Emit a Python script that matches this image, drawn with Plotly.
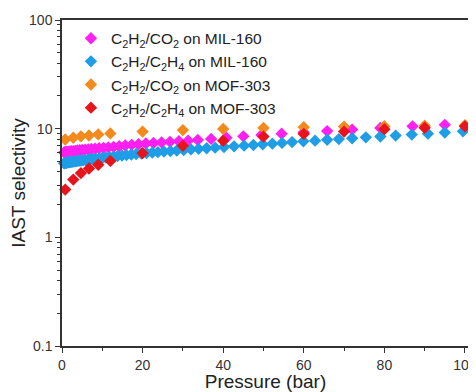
import plotly.graph_objects as go

# MIL-160, C2H2/CO2
p_mil_co2 = [0.5, 0.7, 0.9, 1.1, 1.4, 1.7, 2.0, 2.4, 2.8, 3.3, 3.8, 4.4, 5.0, 5.7, 6.5, 7.3, 8.2, 9.2,
             10.3, 11.5, 12.8, 14.2, 15.7, 17.3, 19.0, 20.8, 22.7, 24.7, 26.8, 29.0, 31.3, 33.7, 37.0,
             40.8, 45.0, 49.5, 54.5, 60.0, 65.8, 72.0, 79.0, 87.0, 95.0]
s_mil_co2 = [6.05, 6.07, 6.09, 6.10, 6.12, 6.14, 6.16, 6.19, 6.22, 6.25, 6.29, 6.33, 6.37, 6.41, 6.45,
             6.50, 6.54, 6.60, 6.66, 6.72, 6.80, 6.90, 7.00, 7.10, 7.20, 7.30, 7.38, 7.47, 7.56, 7.66,
             7.76, 7.87, 8.05, 8.25, 8.50, 8.75, 9.00, 9.25, 9.50, 9.80, 10.15, 10.50, 10.85]

# MIL-160, C2H2/C2H4
p_mil_c2h4 = [0.5, 0.7, 0.9, 1.1, 1.3, 1.6, 1.9, 2.2, 2.5, 2.9, 3.3, 3.7, 4.2, 4.7, 5.2, 5.8, 6.4, 7.0,
              7.7, 8.4, 9.2, 10.0, 10.9, 11.8, 12.8, 13.8, 14.9, 16.0, 17.2, 18.4, 19.7, 21.0, 22.4,
              23.8, 25.3, 26.9, 28.5, 30.2, 32.0, 33.9, 35.9, 38.0, 40.2, 42.7, 45.2, 47.5, 49.8, 52.2,
              54.6, 57.1, 59.9, 62.8, 65.8, 68.7, 72.0, 75.4, 79.0, 82.8, 86.8, 90.8, 95.0, 99.5]
s_mil_c2h4 = [4.80, 4.82, 4.84, 4.86, 4.88, 4.90, 4.92, 4.94, 4.96, 4.98, 5.00, 5.02, 5.05, 5.08, 5.11,
              5.14, 5.17, 5.20, 5.24, 5.28, 5.32, 5.37, 5.42, 5.47, 5.53, 5.59, 5.65, 5.71, 5.78, 5.84,
              5.90, 5.96, 6.02, 6.08, 6.15, 6.22, 6.29, 6.36, 6.44, 6.52, 6.60, 6.69, 6.78, 6.88, 6.98,
              7.08, 7.18, 7.28, 7.40, 7.52, 7.64, 7.76, 7.90, 8.02, 8.17, 8.32, 8.48, 8.64, 8.82, 9.00,
              9.20, 9.45]

# MOF-303
p_mof = [0.8, 2.8, 4.7, 6.7, 9.0, 12.0, 20.0, 30.0, 40.0, 50.0, 60.0, 70.0, 80.0, 90.0, 100.0]
s_mof_co2 = [7.95, 8.25, 8.50, 8.65, 8.85, 9.05, 9.40, 9.70, 9.95, 10.15, 10.30, 10.45, 10.55, 10.65, 10.75]
s_mof_c2h4 = [2.75, 3.40, 3.90, 4.30, 4.65, 5.05, 5.95, 6.95, 7.75, 8.45, 8.95, 9.40, 9.90, 10.20, 10.50]

names = ["C<sub>2</sub>H<sub>2</sub>/CO<sub>2</sub> on MIL-160",
         "C<sub>2</sub>H<sub>2</sub>/C<sub>2</sub>H<sub>4</sub> on MIL-160",
         "C<sub>2</sub>H<sub>2</sub>/CO<sub>2</sub> on MOF-303",
         "C<sub>2</sub>H<sub>2</sub>/C<sub>2</sub>H<sub>4</sub> on MOF-303"]
colors = ["#ff1ff0", "#1f9de6", "#f28a1e", "#e8141c"]

xs = [p_mil_co2, p_mil_c2h4, p_mof, p_mof]
ys = [s_mil_co2, s_mil_c2h4, s_mof_co2, s_mof_c2h4]

FONT = "Arial, Liberation Sans, sans-serif"

fig = go.Figure()
for i in range(4):
    fig.add_trace(go.Scatter(
        x=xs[i], y=ys[i], mode="markers", name=names[i],
        marker=dict(symbol="diamond", size=9.5, color=colors[i], line=dict(width=0)),
        cliponaxis=False,
    ))

minor_y = [v * 10 ** e for e in (-1, 0, 1) for v in range(2, 10)]

# page body has an 8px margin, so the figure is 8px smaller and offset
fig.update_layout(
    width=468, height=384,
    margin=dict(l=54, r=7, t=12, b=46, autoexpand=False),
    paper_bgcolor="white", plot_bgcolor="white",
    font=dict(family=FONT, size=14, color="#333333"),
    showlegend=True,
    legend=dict(x=0.022, y=0.995, xanchor="left", yanchor="top",
                bgcolor="rgba(0,0,0,0)", borderwidth=0,
                font=dict(family=FONT, size=15.5, color="#222222"),
                itemwidth=30),
    xaxis=dict(range=[0, 101], showgrid=False, zeroline=False, automargin=False,
               showline=True, linecolor="#333333", linewidth=1.5, mirror=True,
               ticks="outside", ticklen=5, tickwidth=1.2, tickcolor="#333333",
               tickvals=[0, 20, 40, 60, 80, 100], ticklabeloverflow="allow",
               minor=dict(ticks="outside", ticklen=3, tickvals=[10, 30, 50, 70, 90], tickcolor="#333333"),
               tickfont=dict(size=14, color="#333333"),
               title=dict(text="Pressure (bar)", font=dict(size=19, color="#222222"), standoff=0)),
    yaxis=dict(type="log", range=[-1, 2], showgrid=False, zeroline=False, automargin=False,
               showline=True, linecolor="#333333", linewidth=1.5, mirror=True,
               ticks="outside", ticklen=5, tickwidth=1.2, tickcolor="#333333",
               tickvals=[0.1, 1, 10, 100], ticktext=["0.1", "1", "10", "100"],
               ticklabeloverflow="allow",
               minor=dict(ticks="outside", ticklen=3, tickvals=minor_y, tickcolor="#333333"),
               tickfont=dict(size=14, color="#333333"),
               title=dict(text="IAST selectivity", font=dict(size=19, color="#222222"), standoff=2)),
)

fig.write_html("out.html")
